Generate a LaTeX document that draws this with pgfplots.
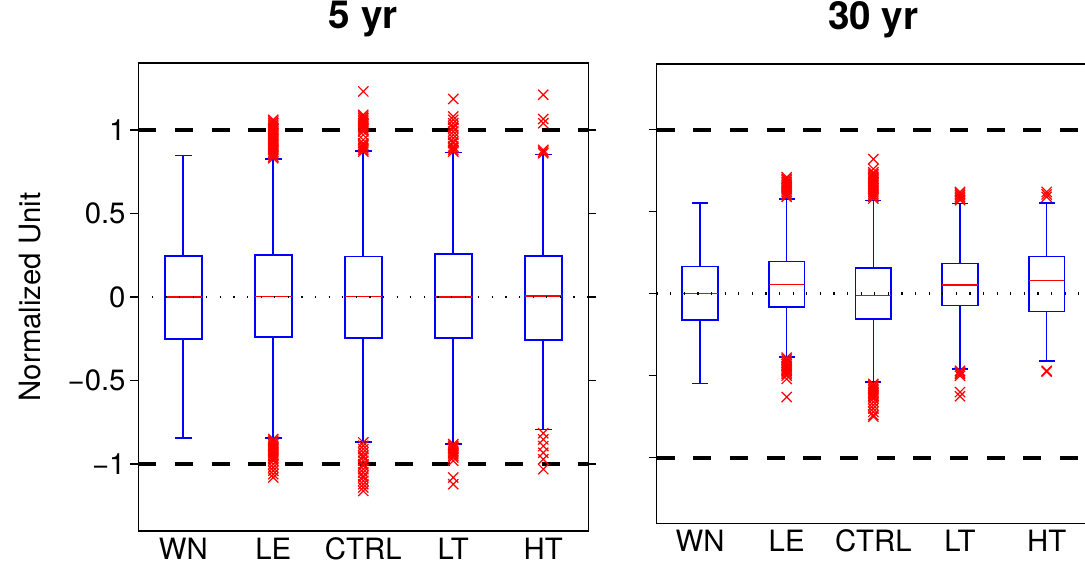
\documentclass[border=0pt]{standalone}
\usepackage{fontspec}
\setmainfont{TeX Gyre Heros}
\usepackage{pgfplots}
\usepackage{pgfplotstable}
\pgfplotsset{compat=1.18}
\usepgfplotslibrary{statistics}

% outliers, 5 yr panel (x = category position, y = value)
\pgfplotstableread{
x y
2 0.83
2 0.84
2 0.85
2 0.86
2 0.87
2 0.88
2 0.89
2 0.90
2 0.91
2 0.92
2 0.93
2 0.94
2 0.95
2 0.96
2 0.97
2 0.98
2 0.99
2 1.00
2 1.01
2 1.02
2 1.03
2 1.04
2 1.05
2 1.06
2 -0.85
2 -0.86
2 -0.87
2 -0.88
2 -0.89
2 -0.90
2 -0.91
2 -0.92
2 -0.93
2 -0.94
2 -0.95
2 -0.96
2 -0.97
2 -0.98
2 -1.00
2 -1.02
2 -1.04
2 -1.06
2 -1.08
3 0.87
3 0.88
3 0.89
3 0.90
3 0.91
3 0.92
3 0.94
3 0.97
3 0.99
3 1.00
3 1.01
3 1.02
3 1.03
3 1.04
3 1.05
3 1.06
3 1.07
3 1.08
3 1.09
3 1.23
3 -0.87
3 -0.89
3 -0.91
3 -0.93
3 -0.95
3 -0.96
3 -0.98
3 -1.00
3 -1.01
3 -1.03
3 -1.05
3 -1.07
3 -1.08
3 -1.10
3 -1.12
3 -1.14
3 -1.16
4 0.87
4 0.88
4 0.89
4 0.90
4 0.92
4 0.93
4 0.95
4 0.97
4 0.99
4 1.01
4 1.02
4 1.04
4 1.06
4 1.08
4 1.185
4 -0.88
4 -0.89
4 -0.90
4 -0.91
4 -0.92
4 -0.93
4 -0.94
4 -0.95
4 -0.96
4 -0.98
4 -1.08
4 -1.12
5 0.86
5 0.87
5 0.88
5 1.04
5 1.065
5 1.21
5 -0.815
5 -0.852
5 -0.892
5 -0.932
5 -0.971
5 -1.03
}\outA

% outliers, 30 yr panel
\pgfplotstableread{
x y
2 0.59
2 0.60
2 0.61
2 0.62
2 0.63
2 0.64
2 0.65
2 0.66
2 0.67
2 0.68
2 0.69
2 0.70
2 0.71
2 -0.39
2 -0.40
2 -0.41
2 -0.42
2 -0.43
2 -0.44
2 -0.45
2 -0.46
2 -0.47
2 -0.48
2 -0.49
2 -0.50
2 -0.52
2 -0.63
3 0.58
3 0.59
3 0.60
3 0.61
3 0.62
3 0.63
3 0.64
3 0.65
3 0.66
3 0.67
3 0.68
3 0.69
3 0.70
3 0.71
3 0.72
3 0.73
3 0.74
3 0.76
3 0.82
3 -0.55
3 -0.56
3 -0.57
3 -0.58
3 -0.59
3 -0.60
3 -0.61
3 -0.62
3 -0.63
3 -0.64
3 -0.66
3 -0.68
3 -0.70
3 -0.72
3 -0.74
3 -0.75
4 0.57
4 0.58
4 0.59
4 0.60
4 0.61
4 0.62
4 -0.47
4 -0.48
4 -0.49
4 -0.50
4 -0.60
4 -0.625
5 0.59
5 0.605
5 0.62
5 -0.47
5 -0.475
}\outB

\pgfplotsset{
  boxplot/every median/.style={draw=red, line width=1.2pt},
  boxplot/every box/.style={draw=blue, line width=1.2pt},
  boxplot/every whisker/.style={draw=blue, line width=1.2pt},
  boxplot/box extend=0.41,
  boxplot/whisker extend=0.185,
  boxplot/draw direction=y,
  panel/.style={
    scale only axis,
    xmin=0.5, xmax=5.5, ymin=-1.4, ymax=1.4,
    xtick={1,2,3,4,5},
    xticklabels={WN,LE,CTRL,LT,HT},
    ytick={-1,-0.5,0,0.5,1},
    tick align=outside,
    major tick length=6pt,
    xtick style={draw=none},
    ytick style={black, line width=1pt},
    axis line style={black, line width=1.1pt},
    tick label style={font=\fontsize{22}{26}\selectfont},
    xticklabel style={yshift=4.5pt},
    title style={at={(0.5,1)}, anchor=base, yshift=19.5pt,
      font=\fontsize{29}{34}\selectfont\bfseries},
    label style={font=\fontsize{22}{26}\selectfont},
    /pgf/number format/assume math mode=true,
  },
  bx/.style={draw=blue, line width=1.2pt, solid},
  outl/.style={only marks, mark=x, red, mark size=5.4pt, mark options={line width=0.9pt}},
  dashl/.style={black, line width=3pt, dash pattern=on 13.5pt off 14pt},
  dotl/.style={black, line width=2.2pt, dash pattern=on 0.9pt off 9.3pt},
}

\begin{document}
\begin{tikzpicture}
\path[use as bounding box] (0,0) rectangle (813.75pt,-424.5pt);
\clip (0,0) rectangle (813.75pt,-424.5pt);

% ---------- 5 yr ----------
\begin{axis}[panel,
  at={(103.7pt,-398.25pt)}, anchor=south west,
  width=337.5pt, height=351pt,
  title={5 yr},
  yticklabels={−1,−0.5,0,0.5,1},
  ylabel={Normalized Unit},
  ylabel style={at={(axis description cs:-0.241,0.5)}, anchor=center},
]
\addplot[bx, boxplot prepared={draw direction=y, draw position=1, lower whisker=-0.842, lower quartile=-0.251, median=0, upper quartile=0.245, upper whisker=0.847}] coordinates {};
\addplot[bx, boxplot prepared={draw direction=y, draw position=2, lower whisker=-0.842, lower quartile=-0.241, median=0.003, upper quartile=0.251, upper whisker=0.825}] coordinates {};
\addplot[bx, boxplot prepared={draw direction=y, draw position=3, lower whisker=-0.868, lower quartile=-0.245, median=0.002, upper quartile=0.243, upper whisker=0.872}] coordinates {};
\addplot[bx, boxplot prepared={draw direction=y, draw position=4, lower whisker=-0.878, lower quartile=-0.247, median=0, upper quartile=0.257, upper whisker=0.864}] coordinates {};
\addplot[bx, boxplot prepared={draw direction=y, draw position=5, lower whisker=-0.792, lower quartile=-0.257, median=0.005, upper quartile=0.247, upper whisker=0.852}] coordinates {};
\addplot[outl] table[x=x, y=y] {\outA};
\addplot[dotl] coordinates {(0.5,0) (5.5,0)};
\addplot[dashl] coordinates {(0.5,1) (5.5,1)};
\addplot[dashl] coordinates {(0.5,-1) (5.5,-1)};
\end{axis}

% ---------- 30 yr ----------
\begin{axis}[panel,
  at={(492.5pt,-392.5pt)}, anchor=south west,
  width=325pt, height=344.5pt,
  title={30 yr},
  yticklabels={},
]
\addplot[bx, boxplot prepared={draw direction=y, draw position=1, lower whisker=-0.547, lower quartile=-0.162, median=0.002, upper quartile=0.166, upper whisker=0.553}] coordinates {};
\addplot[bx, boxplot prepared={draw direction=y, draw position=2, lower whisker=-0.385, lower quartile=-0.083, median=0.057, upper quartile=0.196, upper whisker=0.577}] coordinates {};
\addplot[bx, boxplot prepared={draw direction=y, draw position=3, lower whisker=-0.539, lower quartile=-0.154, median=-0.012, upper quartile=0.156, upper whisker=0.567}] coordinates {};
\addplot[bx, boxplot prepared={draw direction=y, draw position=4, lower whisker=-0.46, lower quartile=-0.073, median=0.053, upper quartile=0.184, upper whisker=0.549}] coordinates {};
\addplot[bx, boxplot prepared={draw direction=y, draw position=5, lower whisker=-0.411, lower quartile=-0.109, median=0.081, upper quartile=0.227, upper whisker=0.551}] coordinates {};
\addplot[outl] table[x=x, y=y] {\outB};
\addplot[dotl] coordinates {(0.5,0) (5.5,0)};
\addplot[dashl] coordinates {(0.5,1) (5.5,1)};
\addplot[dashl] coordinates {(0.5,-1) (5.5,-1)};
\end{axis}
\end{tikzpicture}
\end{document}
